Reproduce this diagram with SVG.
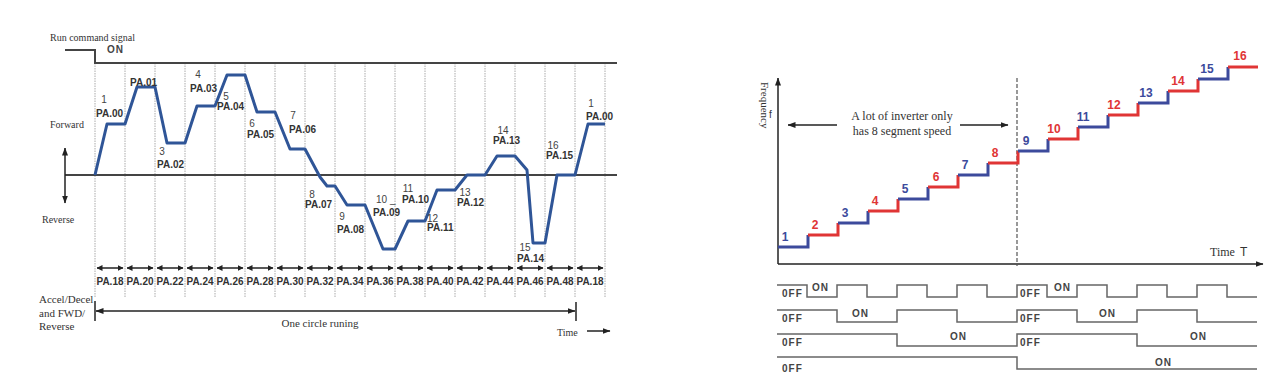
<svg xmlns="http://www.w3.org/2000/svg" width="1287" height="391" viewBox="0 0 1287 391">
<style>
.serif{font-family:"Liberation Serif","Times New Roman",serif;fill:#333}
.pa{font-family:"Liberation Sans",Arial,sans-serif;font-size:10px;font-weight:bold;fill:#333}
.num{font-family:"Liberation Sans",Arial,sans-serif;font-size:10px;fill:#444}
.grid{stroke:#aaa;stroke-width:1;stroke-dasharray:1.5 1}
.axis{stroke:#444;stroke-width:2;fill:none}
.wave{stroke:#2f5597;stroke-width:3;fill:none;stroke-linejoin:round}
.blk{stroke:#222;stroke-width:1.5;fill:none}
.st{stroke-width:3;fill:none}
.b{stroke:#3c4a9c}
.r{stroke:#e03535}
.sb{fill:#3c4a9c}
.sr{fill:#e03535}
.sn{font-family:"Liberation Sans",Arial,sans-serif;font-size:12px;font-weight:bold}
.tm{stroke:#666;stroke-width:1.5;fill:none}
.tl{font-family:"Liberation Sans",Arial,sans-serif;font-size:10px;font-weight:bold;fill:#444;letter-spacing:1px}
</style>
<defs>
<marker id="ah" viewBox="0 0 8 6" refX="7.5" refY="3" markerWidth="8" markerHeight="6" markerUnits="userSpaceOnUse" orient="auto-start-reverse"><path d="M0,0 L8,3 L0,6 z" fill="#222"/></marker>
<marker id="ahs" viewBox="0 0 6 6" refX="5.5" refY="3" markerWidth="6" markerHeight="6" markerUnits="userSpaceOnUse" orient="auto-start-reverse"><path d="M0,0 L6,3 L0,6 z" fill="#222"/></marker>
</defs>

<g id="left-chart">
<g id="grid">
<line class="grid" x1="95" y1="63" x2="95" y2="298"/>
<line class="grid" x1="125" y1="63" x2="125" y2="298"/>
<line class="grid" x1="155" y1="63" x2="155" y2="298"/>
<line class="grid" x1="185" y1="63" x2="185" y2="298"/>
<line class="grid" x1="215" y1="63" x2="215" y2="298"/>
<line class="grid" x1="245" y1="63" x2="245" y2="298"/>
<line class="grid" x1="275" y1="63" x2="275" y2="298"/>
<line class="grid" x1="305" y1="63" x2="305" y2="298"/>
<line class="grid" x1="335" y1="63" x2="335" y2="298"/>
<line class="grid" x1="365" y1="63" x2="365" y2="298"/>
<line class="grid" x1="395" y1="63" x2="395" y2="298"/>
<line class="grid" x1="425" y1="63" x2="425" y2="298"/>
<line class="grid" x1="455" y1="63" x2="455" y2="298"/>
<line class="grid" x1="485" y1="63" x2="485" y2="298"/>
<line class="grid" x1="515" y1="63" x2="515" y2="298"/>
<line class="grid" x1="545" y1="63" x2="545" y2="298"/>
<line class="grid" x1="575" y1="63" x2="575" y2="298"/>
<line class="grid" x1="605" y1="63" x2="605" y2="298"/>
</g>
<g id="run-signal">
<text class="serif" x="50" y="41" font-size="10">Run command signal</text>
<text class="tl" x="107" y="53" font-size="11">ON</text>
<path class="axis" d="M65,50 H95 V63 H617"/>
</g>
<g id="axes">
<line class="axis" x1="65" y1="175" x2="617" y2="175"/>
<line class="blk" x1="65" y1="148" x2="65" y2="203" marker-start="url(#ah)" marker-end="url(#ah)"/>
<text class="serif" x="50" y="128" font-size="10">Forward</text>
<text class="serif" x="42" y="223" font-size="10">Reverse</text>
</g>
<g id="waveform">
<path class="wave" d="M95,175 L107,124 L125,124 L137,87 L155,87 L167,143 L185,143 L197,106 L215,106 L227,75 L245,75 L257,112 L275,112 L290,149 L305,149 Q313,164 320,177 L327,186 L335,186 L347,205 L365,205 L383,249 L395,249 L408,221 L425,221 L437,190 L455,190 L467,175 L485,175 L497,156 L515,156 L527,170 L533,243 L545,243 L557,175 L575,175 L588,124 L605,124"/>
</g>
<g id="wave-labels">
<text class="num" x="104" y="103" text-anchor="middle">1</text>
<text class="pa" x="96" y="117">PA.00</text>
<text class="pa" x="130" y="86">PA.01</text>
<text class="num" x="162" y="155" text-anchor="middle">3</text>
<text class="pa" x="157" y="168">PA.02</text>
<text class="num" x="198" y="78" text-anchor="middle">4</text>
<text class="pa" x="190" y="92">PA.03</text>
<text class="num" x="226" y="100" text-anchor="middle">5</text>
<text class="pa" x="217" y="110">PA.04</text>
<text class="num" x="252" y="127" text-anchor="middle">6</text>
<text class="pa" x="247" y="138">PA.05</text>
<text class="num" x="293" y="119" text-anchor="middle">7</text>
<text class="pa" x="289" y="133">PA.06</text>
<text class="num" x="312" y="198" text-anchor="middle">8</text>
<text class="pa" x="305" y="208">PA.07</text>
<text class="num" x="342" y="220" text-anchor="middle">9</text>
<text class="pa" x="337" y="233">PA.08</text>
<text class="num" x="376" y="203">10 _</text>
<text class="pa" x="373" y="216">PA.09</text>
<text class="num" x="408" y="192" text-anchor="middle">11</text>
<text class="pa" x="402" y="203">PA.10</text>
<text class="num" x="427" y="222">12</text>
<text class="pa" x="427" y="231">PA.11</text>
<text class="num" x="465" y="196" text-anchor="middle">13</text>
<text class="pa" x="457" y="206">PA.12</text>
<text class="num" x="503" y="134" text-anchor="middle">14</text>
<text class="pa" x="493" y="144">PA.13</text>
<text class="num" x="525" y="251" text-anchor="middle">15</text>
<text class="pa" x="517" y="262">PA.14</text>
<text class="num" x="553" y="149" text-anchor="middle">16</text>
<text class="pa" x="546" y="159">PA.15</text>
<text class="num" x="591" y="107" text-anchor="middle">1</text>
<text class="pa" x="586" y="120">PA.00</text>
</g>
<g id="segments">
<g id="seg-arrows">
<line class="blk" x1="97" y1="268" x2="123" y2="268" marker-start="url(#ahs)" marker-end="url(#ahs)"/>
<line class="blk" x1="127" y1="268" x2="153" y2="268" marker-start="url(#ahs)" marker-end="url(#ahs)"/>
<line class="blk" x1="157" y1="268" x2="183" y2="268" marker-start="url(#ahs)" marker-end="url(#ahs)"/>
<line class="blk" x1="187" y1="268" x2="213" y2="268" marker-start="url(#ahs)" marker-end="url(#ahs)"/>
<line class="blk" x1="217" y1="268" x2="243" y2="268" marker-start="url(#ahs)" marker-end="url(#ahs)"/>
<line class="blk" x1="247" y1="268" x2="273" y2="268" marker-start="url(#ahs)" marker-end="url(#ahs)"/>
<line class="blk" x1="277" y1="268" x2="303" y2="268" marker-start="url(#ahs)" marker-end="url(#ahs)"/>
<line class="blk" x1="307" y1="268" x2="333" y2="268" marker-start="url(#ahs)" marker-end="url(#ahs)"/>
<line class="blk" x1="337" y1="268" x2="363" y2="268" marker-start="url(#ahs)" marker-end="url(#ahs)"/>
<line class="blk" x1="367" y1="268" x2="393" y2="268" marker-start="url(#ahs)" marker-end="url(#ahs)"/>
<line class="blk" x1="397" y1="268" x2="423" y2="268" marker-start="url(#ahs)" marker-end="url(#ahs)"/>
<line class="blk" x1="427" y1="268" x2="453" y2="268" marker-start="url(#ahs)" marker-end="url(#ahs)"/>
<line class="blk" x1="457" y1="268" x2="483" y2="268" marker-start="url(#ahs)" marker-end="url(#ahs)"/>
<line class="blk" x1="487" y1="268" x2="513" y2="268" marker-start="url(#ahs)" marker-end="url(#ahs)"/>
<line class="blk" x1="517" y1="268" x2="543" y2="268" marker-start="url(#ahs)" marker-end="url(#ahs)"/>
<line class="blk" x1="547" y1="268" x2="573" y2="268" marker-start="url(#ahs)" marker-end="url(#ahs)"/>
<line class="blk" x1="577" y1="268" x2="603" y2="268" marker-start="url(#ahs)" marker-end="url(#ahs)"/>
</g>
<g id="seg-labels" text-anchor="middle">
<text class="pa" x="110" y="285">PA.18</text>
<text class="pa" x="140" y="285">PA.20</text>
<text class="pa" x="170" y="285">PA.22</text>
<text class="pa" x="200" y="285">PA.24</text>
<text class="pa" x="230" y="285">PA.26</text>
<text class="pa" x="260" y="285">PA.28</text>
<text class="pa" x="290" y="285">PA.30</text>
<text class="pa" x="320" y="285">PA.32</text>
<text class="pa" x="350" y="285">PA.34</text>
<text class="pa" x="380" y="285">PA.36</text>
<text class="pa" x="410" y="285">PA.38</text>
<text class="pa" x="440" y="285">PA.40</text>
<text class="pa" x="470" y="285">PA.42</text>
<text class="pa" x="500" y="285">PA.44</text>
<text class="pa" x="530" y="285">PA.46</text>
<text class="pa" x="560" y="285">PA.48</text>
<text class="pa" x="590" y="285">PA.18</text>
</g>
</g>
<g id="cycle">
<text class="serif" x="39" y="303" font-size="11">Accel/Decel</text>
<text class="serif" x="39" y="317" font-size="11">and FWD/</text>
<text class="serif" x="39" y="330" font-size="11">Reverse</text>
<line class="blk" x1="95" y1="301" x2="95" y2="321"/>
<line class="blk" x1="576" y1="302" x2="576" y2="321"/>
<line class="blk" x1="96" y1="311" x2="575" y2="311" marker-start="url(#ah)" marker-end="url(#ah)"/>
<text class="serif" x="320" y="327" font-size="11" text-anchor="middle">One circle runing</text>
<text class="serif" x="557" y="336" font-size="10">Time</text>
<line class="blk" x1="587" y1="331" x2="610" y2="331" marker-end="url(#ah)"/>
</g>
</g>

<g id="right-chart">
<g id="freq-axes">
<line class="blk" x1="778" y1="264" x2="778" y2="78" stroke-width="2" marker-end="url(#ah)"/>
<line class="blk" x1="778" y1="264" x2="1263" y2="264" stroke-width="2" marker-end="url(#ah)"/>
<text class="serif" x="761" y="82" font-size="11" transform="rotate(90 761 82)">Frequency</text>
<text x="769" y="118" font-family="Liberation Sans,Arial,sans-serif" font-size="10" fill="#333">f</text>
<text class="serif" x="1210" y="256" font-size="12">Time</text>
<text x="1240" y="256" font-family="Liberation Sans,Arial,sans-serif" font-size="12" fill="#333">T</text>
<line x1="1017" y1="78" x2="1017" y2="266" stroke="#555" stroke-width="1.2" stroke-dasharray="4 2"/>
</g>
<g id="note">
<text class="serif" x="902" y="120" font-size="12" text-anchor="middle">A lot of inverter only</text>
<text class="serif" x="902" y="135" font-size="12" text-anchor="middle">has 8 segment speed</text>
<line class="blk" x1="837" y1="125" x2="788" y2="125" stroke-width="2" marker-end="url(#ah)"/>
<line class="blk" x1="960" y1="125" x2="1008" y2="125" stroke-width="2" marker-end="url(#ah)"/>
</g>
<g id="staircase">
<path class="st b" d="M778,247 H808 V235"/>
<path class="st r" d="M808,235 H838 V223"/>
<path class="st b" d="M838,223 H868 V211"/>
<path class="st r" d="M868,211 H898 V199"/>
<path class="st b" d="M898,199 H928 V187"/>
<path class="st r" d="M928,187 H958 V175"/>
<path class="st b" d="M958,175 H988 V163"/>
<path class="st r" d="M988,163 H1018 V151"/>
<path class="st b" d="M1018,151 H1048 V139"/>
<path class="st r" d="M1048,139 H1078 V127"/>
<path class="st b" d="M1078,127 H1108 V115"/>
<path class="st r" d="M1108,115 H1138 V103"/>
<path class="st b" d="M1138,103 H1168 V91"/>
<path class="st r" d="M1168,91 H1198 V79"/>
<path class="st b" d="M1198,79 H1228 V67"/>
<path class="st r" d="M1228,67 H1258"/>
</g>
<g id="step-labels" class="sn" text-anchor="middle">
<text class="sb" x="785" y="241">1</text>
<text class="sr" x="815" y="229">2</text>
<text class="sb" x="845" y="217">3</text>
<text class="sr" x="875" y="205">4</text>
<text class="sb" x="905" y="193">5</text>
<text class="sr" x="936" y="181">6</text>
<text class="sb" x="965" y="169">7</text>
<text class="sr" x="995" y="157">8</text>
<text class="sb" x="1026" y="145">9</text>
<text class="sr" x="1054" y="133">10</text>
<text class="sb" x="1083" y="121">11</text>
<text class="sr" x="1114" y="109">12</text>
<text class="sb" x="1146" y="97">13</text>
<text class="sr" x="1178" y="85">14</text>
<text class="sb" x="1207" y="73">15</text>
<text class="sr" x="1240" y="60">16</text>
</g>
<g id="timing">
<path class="tm" d="M777,285 H807 V297 H837 V285 H867 V297 H897 V285 H927 V297 H957 V285 H987 V297 H1017 V285 H1047 V297 H1077 V285 H1107 V297 H1137 V285 H1167 V297 H1197 V285 H1227 V297 H1257"/>
<path class="tm" d="M777,310 H837 V322 H897 V310 H957 V322 H1017 V310 H1077 V322 H1137 V310 H1197 V322 H1257"/>
<path class="tm" d="M777,334 H897 V346 H1017 V334 H1137 V346 H1257"/>
<path class="tm" d="M777,357 H1017 V369 H1257"/>
<text class="tl" x="782" y="297">0FF</text>
<text class="tl" x="812" y="291">ON</text>
<text class="tl" x="1020" y="297">0FF</text>
<text class="tl" x="1054" y="291">ON</text>
<text class="tl" x="782" y="322">0FF</text>
<text class="tl" x="852" y="317">ON</text>
<text class="tl" x="1020" y="322">0FF</text>
<text class="tl" x="1099" y="317">ON</text>
<text class="tl" x="782" y="346">0FF</text>
<text class="tl" x="950" y="340">ON</text>
<text class="tl" x="1020" y="346">0FF</text>
<text class="tl" x="1190" y="340">ON</text>
<text class="tl" x="782" y="372">0FF</text>
<text class="tl" x="1155" y="366">ON</text>
</g>
</g>
</svg>
